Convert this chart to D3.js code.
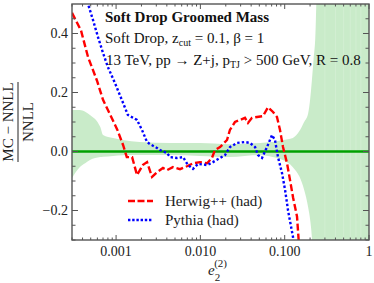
<!DOCTYPE html>
<html><head><meta charset="utf-8">
<script src="https://cdn.jsdelivr.net/npm/d3@7"></script>
<style>body{margin:0;background:#fff} svg text{font-family:"Liberation Serif","Times New Roman",Times,serif;}</style>
</head><body><svg id="c" width="374" height="283"></svg>
<script>
// ---- data ----
const herwigX = [0.0003,0.000384,0.000465,0.000594,0.0007,0.00085,0.00103,0.00121,0.00134,0.00155,0.00177,0.00209,0.00233,0.00267,0.00306,0.0036,0.00402,0.00473,0.00573,0.00693,0.00817,0.00989,0.012,0.0137,0.0149,0.0171,0.0207,0.0224,0.0257,0.0295,0.0338,0.0367,0.0409,0.047,0.0553,0.0634,0.0727,0.081,0.088,0.0955,0.1066,0.1157,0.1255,0.140,0.148];
const herwigY = [0.47,0.41,0.32,0.24,0.175,0.125,0.075,0.022,-0.019,-0.019,-0.08,-0.045,-0.036,-0.086,-0.07,-0.056,-0.063,-0.053,-0.06,-0.05,-0.04,-0.036,-0.04,-0.022,0.005,0.015,0.039,0.073,0.1,0.107,0.114,0.097,0.114,0.117,0.12,0.15,0.134,0.117,0.073,0.015,-0.04,-0.097,-0.155,-0.22,-0.32];
const pythiaX = [0.00044,0.000465,0.000532,0.00061,0.0007,0.0008,0.00097,0.00117,0.00138,0.00177,0.00203,0.00233,0.00252,0.00306,0.00332,0.00402,0.00436,0.00528,0.00622,0.00713,0.00817,0.00937,0.012,0.0141,0.0171,0.0196,0.0224,0.0272,0.0338,0.0388,0.0445,0.0482,0.0538,0.0617,0.0707,0.0767,0.0833,0.0929,0.101,0.1096,0.1255,0.13];
const pythiaY = [0.54,0.5,0.446,0.388,0.334,0.286,0.232,0.175,0.124,0.107,0.073,0.032,0.025,0.012,0.005,-0.005,-0.019,-0.022,-0.019,-0.046,-0.059,-0.042,-0.046,-0.036,-0.022,-0.012,0.015,0.029,0.032,0.029,0.015,-0.012,-0.022,0.015,0.056,0.039,-0.019,-0.073,-0.13,-0.2,-0.29,-0.33];
const bandX  = [0.0003,0.00037,0.00043,0.00049,0.00065,0.0007,0.00092,0.0012,0.0019,0.0044,0.0099,0.022,0.051,0.072,0.095,0.125,0.15,0.17,0.19,0.2,0.21,0.22,0.23,0.245,1];
const bandLo = [-0.09,-0.053,-0.04,-0.029,-0.019,-0.018,-0.015,-0.013,-0.012,-0.012,-0.015,-0.019,-0.012,-0.019,-0.029,-0.053,-0.086,-0.13,-0.19,-0.23,-0.29,-0.4,-0.4,-0.4,-0.4];
const bandHi = [0.141,0.141,0.135,0.124,0.083,0.056,0.046,0.039,0.032,0.029,0.029,0.025,0.029,0.032,0.039,0.046,0.07,0.1,0.13,0.175,0.24,0.31,0.378,0.6,0.6];
const xTicks = [0.001,0.01,0.1,1];
const xTickLabels = ["0.001","0.010","0.100","1"];
const yTicks = [-0.2,0,0.2,0.4];
const yTickLabels = ["\u22120.2","0.0","0.2","0.4"];
const stripeX = [0.3,0.4,0.5,0.6,0.7,0.8];

// ---- layout ----
const L=72,R=369,T=4,B=240;
const x=d3.scaleLog().domain([0.0003,1]).range([L,R]);
const y=d3.scaleLinear().domain([-0.3,0.5]).range([B,T]);
const svg=d3.select("#c");
svg.append("defs").append("clipPath").attr("id","clip").append("rect")
  .attr("x",L).attr("y",T).attr("width",R-L).attr("height",B-T);
const g=svg.append("g").attr("clip-path","url(#clip)");

// band
const band=bandX.map((v,i)=>({x:v,lo:bandLo[i],hi:bandHi[i]}));
g.append("path").datum(band).attr("fill","#c9ebc9")
  .attr("d",d3.area().x(d=>x(d.x)).y0(d=>y(d.lo)).y1(d=>y(d.hi)).curve(d3.curveMonotoneX));
g.selectAll("line.stripe").data(stripeX).join("line").attr("class","stripe")
  .attr("x1",d=>x(d)).attr("x2",d=>x(d)).attr("y1",T).attr("y2",B)
  .attr("stroke","#ffffff").attr("stroke-opacity",0.18).attr("stroke-width",1);

// zero line
g.append("line").attr("x1",L).attr("x2",R).attr("y1",y(0)).attr("y2",y(0))
  .attr("stroke","#00a000").attr("stroke-width",2.5);

const line=d3.line().x(d=>x(d[0])).y(d=>y(d[1]));
g.append("path").datum(herwigX.map((v,i)=>[v,herwigY[i]]))
  .attr("fill","none").attr("stroke","#ff0000").attr("stroke-width",2.4)
  .attr("stroke-dasharray","7,3").attr("d",line);
g.append("path").datum(pythiaX.map((v,i)=>[v,pythiaY[i]]))
  .attr("fill","none").attr("stroke","#0000ff").attr("stroke-width",2.4)
  .attr("stroke-dasharray","2.4,2.2").attr("d",line);

// frame + ticks
const fc="#555";
svg.append("rect").attr("x",L).attr("y",T).attr("width",R-L).attr("height",B-T)
  .attr("fill","none").attr("stroke",fc).attr("stroke-width",1.4);
const minorX=[];
for(let e=-4;e<=-1;e++) for(let k=2;k<=9;k++){const v=k*Math.pow(10,e); if(v>=0.0003&&v<1) minorX.push(v);}
function tk(cls,data,f){svg.selectAll("line."+cls).data(data).join("line").attr("class",cls).each(f).attr("stroke",fc).attr("stroke-width",1);}
tk("xb",xTicks,function(d){d3.select(this).attr("x1",x(d)).attr("x2",x(d)).attr("y1",B).attr("y2",B-5);});
tk("xt",xTicks,function(d){d3.select(this).attr("x1",x(d)).attr("x2",x(d)).attr("y1",T).attr("y2",T+5);});
tk("xbm",minorX,function(d){d3.select(this).attr("x1",x(d)).attr("x2",x(d)).attr("y1",B).attr("y2",B-2.5);});
tk("xtm",minorX,function(d){d3.select(this).attr("x1",x(d)).attr("x2",x(d)).attr("y1",T).attr("y2",T+2.5);});
tk("yl",yTicks,function(d){d3.select(this).attr("y1",y(d)).attr("y2",y(d)).attr("x1",L).attr("x2",L+6);});
tk("yr",yTicks,function(d){d3.select(this).attr("y1",y(d)).attr("y2",y(d)).attr("x1",R).attr("x2",R-6);});
const yMin=d3.range(-6,10).map(i=>i*0.05).filter(v=>Math.abs(v*10-Math.round(v*10))>0.1 || Math.round(v*10)%2!==0);
tk("ylm",yMin,function(d){d3.select(this).attr("y1",y(d)).attr("y2",y(d)).attr("x1",L).attr("x2",L+3.5);});
tk("yrm",yMin,function(d){d3.select(this).attr("y1",y(d)).attr("y2",y(d)).attr("x1",R).attr("x2",R-3.5);});

// tick labels
svg.selectAll("text.xl").data(xTicks).join("text").attr("class","xl")
  .attr("x",d=>x(d)).attr("y",256).attr("text-anchor","middle")
  .attr("font-size",14).attr("fill","#222")
  .text((d,i)=>xTickLabels[i]);
svg.selectAll("text.yl").data(yTicks).join("text").attr("class","yl")
  .attr("x",68).attr("y",d=>y(d)+4.5).attr("text-anchor","end")
  .attr("font-size",14).attr("fill","#222")
  .text((d,i)=>yTickLabels[i]);

// axis labels
const yl=svg.append("g").attr("font-size",15).attr("fill","#222");
yl.append("text").attr("transform","translate(13,122) rotate(-90)").attr("text-anchor","middle").text("MC \u2212 NNLL");
yl.append("text").attr("transform","translate(33,122) rotate(-90)").attr("text-anchor","middle").text("NNLL");
svg.append("line").attr("x1",18).attr("x2",18).attr("y1",82).attr("y2",162).attr("stroke","#222").attr("stroke-width",1);
const xl=svg.append("text").attr("x",208).attr("y",275).attr("font-size",15).attr("fill","#222");
xl.append("tspan").attr("font-style","italic").text("e");
xl.append("tspan").attr("font-size",11).attr("dy",6).text("2");
xl.append("tspan").attr("font-size",11).attr("dx",-6).attr("dy",-14).text("(2)");

// title block
const tb=svg.append("g").attr("font-size",15).attr("fill","#111");
tb.append("text").attr("x",105).attr("y",22).attr("font-weight","bold").text("Soft Drop Groomed Mass");
const t2=tb.append("text").attr("x",105).attr("y",43);
t2.append("tspan").text("Soft Drop, z");
t2.append("tspan").attr("font-size",10).attr("dy",3).text("cut");
t2.append("tspan").attr("dy",-3).text(" = 0.1, \u03B2 = 1");
const t3=tb.append("text").attr("x",106).attr("y",65);
t3.append("tspan").text("13 TeV, pp \u2192 Z+j, p");
t3.append("tspan").attr("font-size",10).attr("dy",3).text("TJ");
t3.append("tspan").attr("dy",-3).text(" > 500 GeV, R = 0.8");

// legend
const lg=svg.append("g");
lg.append("line").attr("x1",128).attr("x2",153).attr("y1",201).attr("y2",201)
  .attr("stroke","#ff0000").attr("stroke-width",2.4).attr("stroke-dasharray","7,2.5");
lg.append("line").attr("x1",128).attr("x2",153).attr("y1",220).attr("y2",220)
  .attr("stroke","#0000ff").attr("stroke-width",2.4).attr("stroke-dasharray","2.4,1.8");
lg.append("text").attr("x",165).attr("y",206).attr("font-size",15).attr("fill","#222").text("Herwig++ (had)");
lg.append("text").attr("x",165).attr("y",225).attr("font-size",15).attr("fill","#222").text("Pythia (had)");
</script></body></html>
